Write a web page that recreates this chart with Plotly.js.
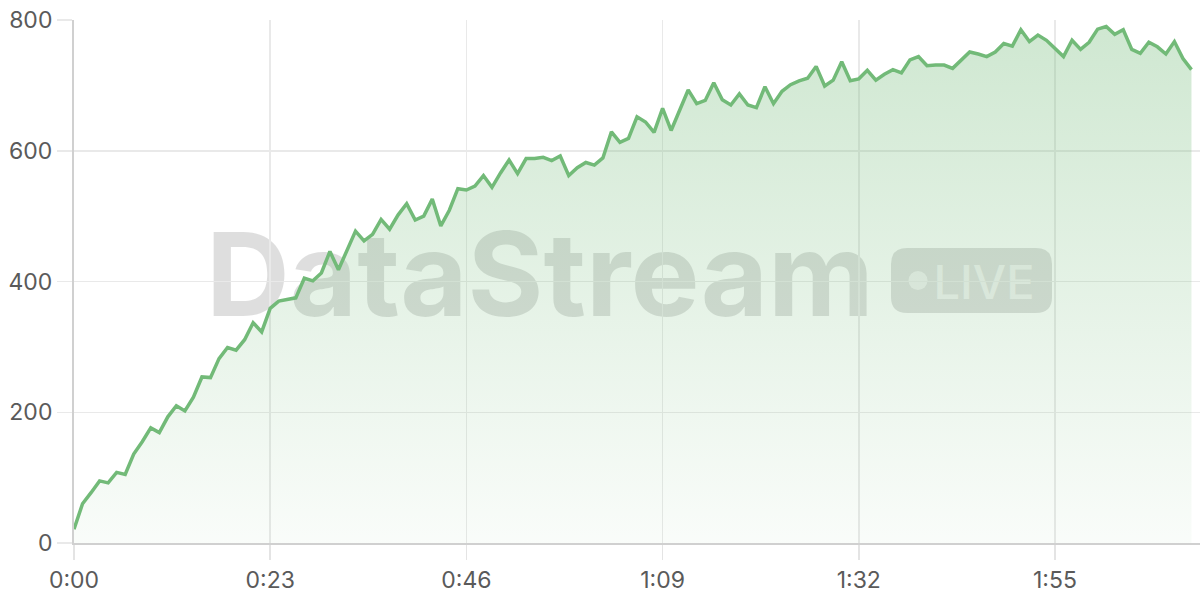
<!DOCTYPE html>
<html>
<head>
<meta charset="utf-8">
<script src="https://cdn.plot.ly/plotly-3.0.1.min.js"></script>
<style>
  html, body { margin: 0; padding: 0; background: #ffffff; }
  #chart { width: 1200px; height: 600px; }
</style>
</head>
<body>
<div id="chart"></div>
<script>
// Sampled value, one reading per second
const values = [
  21, 60, 77, 95, 92, 108, 105, 136, 155, 176,
  169, 193, 210, 202, 223, 254, 253, 282, 299, 295,
  311, 337, 323, 359, 370, 373, 375, 405, 401, 413,
  446, 418, 447, 477, 462, 472, 495, 480, 502, 519,
  494, 500, 526, 485, 509, 542, 540, 546, 562, 544,
  566, 586, 565, 588, 588, 590, 585, 592, 562, 574,
  582, 578, 589, 629, 613, 619, 652, 644, 628, 665,
  631, 661, 693, 672, 677, 704, 678, 670, 687, 670,
  666, 698, 672, 691, 701, 707, 711, 729, 699, 708,
  736, 707, 710, 723, 708, 717, 724, 719, 739, 744,
  730, 731, 731, 726, 738, 751, 748, 744, 751, 764,
  760, 785, 767, 777, 769, 757, 744, 769, 755, 766,
  786, 790, 778, 785, 755, 749, 766, 759, 748, 767,
  741, 724
];
const seconds = values.map((_, i) => i);

const xTickVals = [0, 23, 46, 69, 92, 115];
const xTickText = ['0:00', '0:23', '0:46', '1:09', '1:32', '1:55'];
const yTickVals = [0, 200, 400, 600, 800];
const yTickText = ['0', '200', '400', '600', '800'];

const watermarkText = 'DataStream';
const badgeText = 'LIVE';

const W = 1200, H = 600;
const M = { l: 74, r: 0, t: 20, b: 57 };
const pw = W - M.l - M.r, ph = H - M.t - M.b;
const px = x => (x - M.l) / pw;
const py = y => (H - M.b - y) / ph;

const trace = {
  x: seconds,
  y: values,
  type: 'scatter',
  mode: 'lines',
  line: { color: '#72ba78', width: 3.5 },
  fill: 'tozeroy',
  fillgradient: {
    type: 'vertical',
    colorscale: [[0, 'rgba(114,186,120,0.04)'], [1, 'rgba(114,186,120,0.34)']]
  },
  hoverinfo: 'x+y'
};

const wmColor = 'rgba(0,0,0,0.13)';

const shapes = [
  {
    type: 'rect', xref: 'paper', yref: 'paper', layer: 'below',
    x0: px(200), x1: px(880), y0: py(320), y1: py(220),
    line: { width: 0 }, fillcolor: 'rgba(0,0,0,0)',
    label: {
      text: watermarkText, textposition: 'middle center',
      font: { family: 'Inter, Roboto, sans-serif', size: 116, color: wmColor, weight: 'bold' }
    }
  },
  {
    type: 'path', xref: 'paper', yref: 'paper', layer: 'below',
    xsizemode: 'pixel', ysizemode: 'pixel',
    xanchor: px(971.5), yanchor: py(280.5),
    path: 'M -64.5,-32.5 L 64.5,-32.5 Q 80.5,-32.5 80.5,-16.5 L 80.5,16.5 Q 80.5,32.5 64.5,32.5 L -64.5,32.5 Q -80.5,32.5 -80.5,16.5 L -80.5,-16.5 Q -80.5,-32.5 -64.5,-32.5 Z',
    line: { width: 0 }, fillcolor: wmColor
  },
  {
    type: 'circle', xref: 'paper', yref: 'paper', layer: 'below',
    xsizemode: 'pixel', ysizemode: 'pixel',
    xanchor: px(918), yanchor: py(280.5),
    x0: -9.5, x1: 9.5, y0: -9.5, y1: 9.5,
    line: { width: 0 }, fillcolor: 'rgba(255,255,255,0.55)'
  },
  {
    type: 'rect', xref: 'paper', yref: 'paper', layer: 'below',
    x0: px(924), x1: px(1044), y0: py(305), y1: py(255),
    line: { width: 0 }, fillcolor: 'rgba(0,0,0,0)',
    label: {
      text: badgeText, textposition: 'middle center',
      font: { family: 'Inter, Roboto, sans-serif', size: 47, color: 'rgba(255,255,255,0.6)', weight: 500 }
    }
  }
];

const layout = {
  width: W, height: H,
  margin: M,
  paper_bgcolor: '#ffffff',
  plot_bgcolor: '#ffffff',
  showlegend: false,
  font: { family: 'Inter, Roboto, sans-serif', size: 23, color: '#5a5a5a' },
  xaxis: {
    range: [0, 132],
    tickmode: 'array', tickvals: xTickVals, ticktext: xTickText,
    showgrid: true, gridcolor: '#e9e9e9', gridwidth: 1.5,
    zeroline: false,
    showline: true, linecolor: '#d0d0d0', linewidth: 2,
    ticks: 'outside', ticklen: 15, tickwidth: 1.5, tickcolor: '#e4e4e4',
    tickfont: { size: 23, color: '#5a5a5a' },
    fixedrange: true
  },
  yaxis: {
    range: [0, 800],
    tickmode: 'array', tickvals: yTickVals, ticktext: yTickText,
    showgrid: true, gridcolor: '#e9e9e9', gridwidth: 1.5,
    zeroline: false,
    showline: true, linecolor: '#d0d0d0', linewidth: 2,
    ticks: 'outside', ticklen: 15, tickwidth: 1.5, tickcolor: '#e9e9e9',
    tickfont: { size: 23, color: '#5a5a5a' },
    fixedrange: true
  },
  shapes: shapes
};

Plotly.newPlot('chart', [trace], layout, { displayModeBar: false, staticPlot: true });
</script>
</body>
</html>
